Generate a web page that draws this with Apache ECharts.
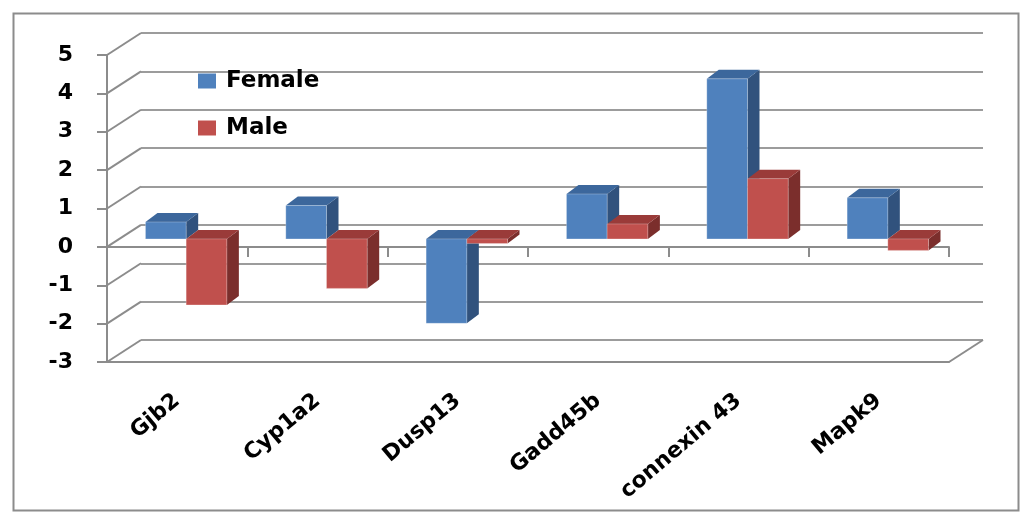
<!DOCTYPE html>
<html>
<head>
<meta charset="utf-8">
<script src="https://cdn.jsdelivr.net/npm/echarts@6/dist/echarts.min.js"></script>
<style>
html,body{margin:0;padding:0;background:#fff;}
#chart{width:1024px;height:518px;}
</style>
</head>
<body>
<div id="chart"></div>
<script>
const categories = ['Gjb2', 'Cyp1a2', 'Dusp13', 'Gadd45b', 'connexin 43', 'Mapk9'];
const female = [0.44, 0.87, -2.2, 1.17, 4.17, 1.07];
const male = [-1.72, -1.29, -0.12, 0.39, 1.57, -0.3];
const yMin = -3, yMax = 5, yStep = 1;
const yTicks = [-3, -2, -1, 0, 1, 2, 3, 4, 5];

const FONT = 'DejaVu Sans';
const AXIS_C = '#8c8c8c';
const GRID_C = '#9c9c9c';
// 3D projection (styling only)
const WALL_DX = 34, WALL_DY = -22;   // front plane -> back wall
const OX = 9, OY = -8;               // bar front face offset
const DX = 12, DY = -9;              // bar depth
const BAR_FRAC = 0.29;

const colors = {
  Female: {front: '#4F81BD', top: '#3C679C', side: '#31527D'},
  Male:   {front: '#C0504D', top: '#9A3B39', side: '#7B2E2C'}
};

const chart = echarts.init(document.getElementById('chart'));

function barRender(name, idx) {
  const c = colors[name];
  return function (params, api) {
    const i = api.value(0), v = api.value(1);
    const p0 = api.coord([i, 0]);
    const p1 = api.coord([i, v]);
    const band = api.size([1, 0])[0];
    const W = band * BAR_FRAC;
    const x0 = (idx === 0 ? p0[0] - W : p0[0]) + OX;
    const yTop = Math.min(p0[1], p1[1]) + OY;
    const yBot = Math.max(p0[1], p1[1]) + OY;
    const x1 = x0 + W;
    return {
      type: 'group',
      children: [
        {type: 'polygon', shape: {points: [[x1, yTop], [x1 + DX, yTop + DY], [x1 + DX, yBot + DY], [x1, yBot]]},
         style: {fill: c.side}},
        {type: 'polygon', shape: {points: [[x0, yTop], [x1, yTop], [x1 + DX, yTop + DY], [x0 + DX, yTop + DY]]},
         style: {fill: c.top}},
        {type: 'rect', shape: {x: x0, y: yTop, width: W, height: Math.max(yBot - yTop, 0.5)},
         style: {fill: c.front, stroke: 'rgba(255,255,255,0.25)', lineWidth: 1}}
      ]
    };
  };
}

const lineStyle = {stroke: AXIS_C, lineWidth: 2};

const option = {
  animation: false,
  backgroundColor: '#fff',
  graphic: [{
    type: 'rect', left: 11, top: 11, z: -10,
    shape: {width: 1005, height: 497},
    style: {fill: 'none', stroke: '#8c8c8c', lineWidth: 2}
  }],
  legend: {
    orient: 'vertical', left: 193, top: 64,
    itemWidth: 18, itemHeight: 15, itemGap: 23,
    icon: 'rect',
    data: ['Female', 'Male'],
    textStyle: {fontFamily: FONT, fontWeight: 'bold', fontSize: 23, color: '#000', lineHeight: 24, padding: [0, 0, 0, 5]}
  },
  grid: [
    {left: 107, top: 55, width: 842, height: 307},
    {left: 107 + WALL_DX, top: 55 + WALL_DY, width: 842, height: 307},
    {left: 107, top: 55, width: 842, height: 307}
  ],
  xAxis: [
    {gridIndex: 0, type: 'category', data: categories, boundaryGap: true,
     axisLine: {show: true, onZero: true, lineStyle: {color: AXIS_C, width: 2}},
     axisTick: {show: true, length: 10, lineStyle: {color: AXIS_C, width: 2}},
     axisLabel: {show: false}, splitLine: {show: false}},
    {gridIndex: 1, type: 'category', data: categories, show: false},
    {gridIndex: 2, type: 'category', data: categories, boundaryGap: true,
     axisLine: {show: true, onZero: false, lineStyle: {color: AXIS_C, width: 2}},
     axisTick: {show: false},
     axisLabel: {rotate: 40, margin: 36, fontFamily: FONT, fontWeight: 'bold', fontSize: 22, color: '#000', interval: 0},
     splitLine: {show: false}}
  ],
  yAxis: [
    {gridIndex: 0, type: 'value', min: yMin, max: yMax, interval: yStep,
     axisLine: {show: true, lineStyle: {color: AXIS_C, width: 2}},
     axisTick: {show: true, length: 10, lineStyle: {color: AXIS_C, width: 2}},
     axisLabel: {margin: 34, fontFamily: FONT, fontWeight: 'bold', fontSize: 22, color: '#000'},
     splitLine: {show: false}},
    {gridIndex: 1, type: 'value', min: yMin, max: yMax, interval: yStep,
     axisLine: {show: false}, axisTick: {show: false}, axisLabel: {show: false},
     splitLine: {show: true, lineStyle: {color: GRID_C, width: 2}}},
    {gridIndex: 2, type: 'value', min: yMin, max: yMax, interval: yStep, show: false}
  ],
  series: [
    {
      name: 'wall', type: 'custom', xAxisIndex: 0, yAxisIndex: 0, z: 1, silent: true,
      data: yTicks.map(v => [0, v]),
      renderItem: function (params, api) {
        const p = api.coord([api.value(0), api.value(1)]);
        const band = api.size([1, 0])[0];
        const x = p[0] - band / 2;
        return {type: 'line', shape: {x1: x, y1: p[1], x2: x + WALL_DX, y2: p[1] + WALL_DY}, style: lineStyle};
      }
    },
    {
      name: 'floor', type: 'custom', xAxisIndex: 0, yAxisIndex: 0, z: 1, silent: true,
      data: [[categories.length - 1, yMin]],
      renderItem: function (params, api) {
        const p = api.coord([api.value(0), api.value(1)]);
        const band = api.size([1, 0])[0];
        const x = p[0] + band / 2;
        return {type: 'line', shape: {x1: x, y1: p[1], x2: x + WALL_DX, y2: p[1] + WALL_DY}, style: lineStyle};
      }
    },
    {
      name: 'Female', type: 'custom', xAxisIndex: 0, yAxisIndex: 0, z: 3,
      itemStyle: {color: colors.Female.front},
      data: female.map((v, i) => [i, v]),
      renderItem: barRender('Female', 0)
    },
    {
      name: 'Male', type: 'custom', xAxisIndex: 0, yAxisIndex: 0, z: 4,
      itemStyle: {color: colors.Male.front},
      data: male.map((v, i) => [i, v]),
      renderItem: barRender('Male', 1)
    }
  ]
};
chart.setOption(option);
</script>
</body>
</html>
